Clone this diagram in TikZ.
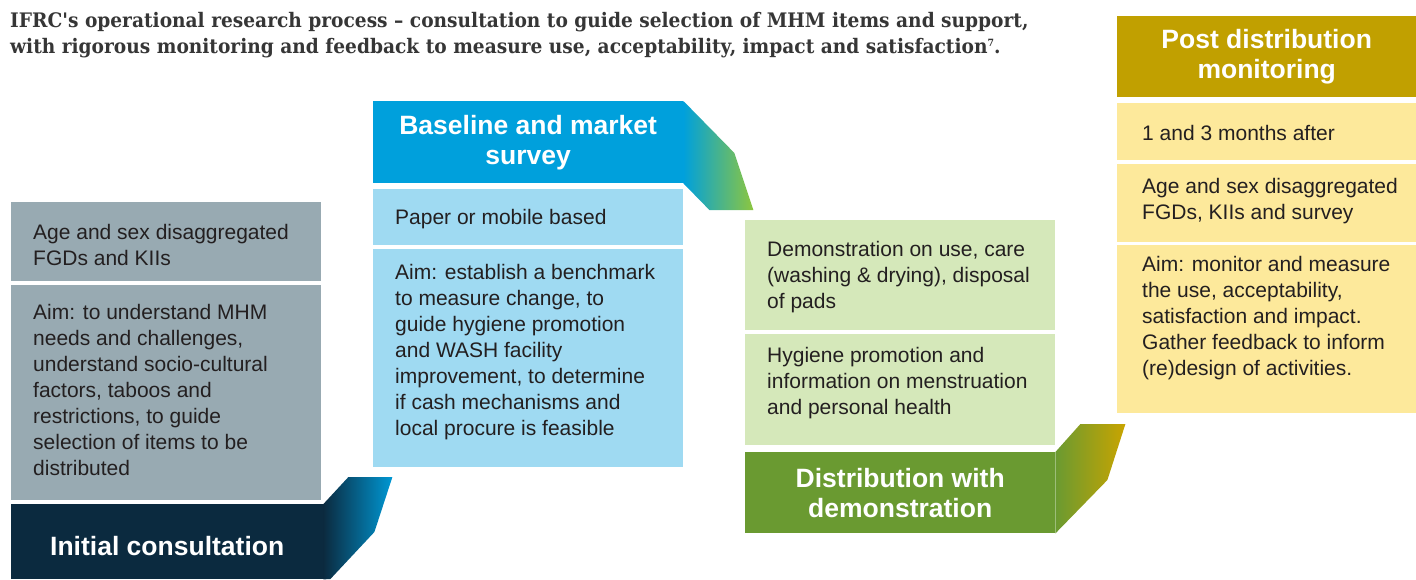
\documentclass[tikz,border=0pt]{standalone}
\usepackage{fontspec}
\setmainfont{Liberation Sans}
\newfontfamily\titlefont[FakeStretch=0.93]{DejaVu Serif}
\usetikzlibrary{positioning}

\definecolor{ink}{HTML}{231F20}
\definecolor{titlegray}{HTML}{363636}
\definecolor{graycell}{HTML}{98AAB2}
\definecolor{navy}{HTML}{0B2A3F}
\definecolor{chevblue}{HTML}{0098D4}
\definecolor{hblue}{HTML}{00A0DC}
\definecolor{lblue}{HTML}{9FDAF2}
\definecolor{chevgreen}{HTML}{8DC63F}
\definecolor{lgreen}{HTML}{D5E8BA}
\definecolor{hgreen}{HTML}{6A9A31}
\definecolor{gold}{HTML}{C1A000}
\definecolor{chevgold}{HTML}{C9A400}
\definecolor{lyellow}{HTML}{FDE99B}

\begin{document}
\begin{tikzpicture}[x=1pt, y=-1pt,
        cell/.style={inner sep=0pt, minimum width=310pt, anchor=north west},
        head/.style={cell, text=white, align=center,
            font=\fontsize{26.5}{30}\selectfont\bfseries},
        txt/.style={anchor=west, align=left, inner sep=0pt, text=ink,
            font=\fontsize{21}{26}\selectfont},
    ]
    \useasboundingbox (0,0) rectangle (1416,579);

    \node[anchor=north west, align=left, inner sep=0pt, text=titlegray,
        font=\titlefont\bfseries\fontsize{20}{26}\selectfont] (title) at (10,12)
        {IFRC's operational research process – consultation to guide selection of MHM items and support,\\
         with rigorous monitoring and feedback to measure use, acceptability, impact and satisfaction{\fontsize{10}{10}\selectfont\raisebox{7pt}{7}}.};

    % initial consultation
    \node[cell, fill=graycell, minimum height=79pt] (a1) at (11,202) {};
    \node[cell, fill=graycell, minimum height=215pt, below=3pt of a1] (a2) {};
    \node[head, fill=navy, minimum width=312pt, minimum height=75pt, text height=27pt, text depth=0pt] (a0) at (11,504) {Initial consultation};
    \shade[left color=navy, right color=chevblue] (a0.north east) -- ++(25,-27) -- ++(44,0)
        -- ++(-18,55) -- ++(-44,47) -- (a0.south east) -- cycle;
    \node[txt, yshift=-3.5pt] (a1t) at ([xshift=22pt]a1.west) {Age and sex disaggregated\\FGDs and KIIs};
    \node[txt, yshift=2.5pt] (a2t) at ([xshift=22pt]a2.west) {Aim: to understand MHM\\needs and challenges,\\understand socio-cultural\\factors, taboos and\\restrictions, to guide\\selection of items to be\\distributed};

    % baseline
    \node[head, fill=hblue, minimum height=82pt] (b0) at (373,101) {Baseline and market\\survey};
    \shade[left color=hblue, right color=chevgreen] (b0.north east) -- ++(51,52) -- ++(19,57)
        -- ++(-44,0) -- (b0.south east) -- cycle;
    \node[cell, fill=lblue, minimum height=56pt] (b1) at (373,189) {};
    \node[cell, fill=lblue, minimum height=218pt, below=3pt of b1] (b2) {};
    \node[txt, yshift=-2pt] (b1t) at ([xshift=22pt]b1.west) {Paper or mobile based};
    \node[txt, yshift=6pt] (b2t) at ([xshift=22pt]b2.west) {Aim: establish a benchmark\\to measure change, to\\guide hygiene promotion\\and WASH facility\\improvement, to determine\\if cash mechanisms and\\local procure is feasible};

    % distribution
    \node[cell, fill=lgreen, minimum height=110pt] (c1) at (745,220) {};
    \node[cell, fill=lgreen, minimum height=111pt, below=3pt of c1] (c2) {};
    \node[head, fill=hgreen, minimum height=81pt] (c0) at (745,452) {Distribution with\\demonstration};
    \shade[left color=hgreen, right color=chevgold] (c0.north east) -- ++(25,-28) -- ++(45,0)
        -- ++(-18,56) -- (c0.south east) -- cycle;
    \node[txt, yshift=-2pt] (c1t) at ([xshift=22pt]c1.west) {Demonstration on use, care\\(washing \& drying), disposal\\of pads};
    \node[txt, yshift=6.5pt] (c2t) at ([xshift=22pt]c2.west) {Hygiene promotion and\\information on menstruation\\and personal health};

    % post distribution
    \node[head, fill=gold, minimum width=299pt, minimum height=81pt] (d0) at (1117,16) {Post distribution\\monitoring};
    \node[cell, fill=lyellow, minimum width=299pt, minimum height=57pt] (d1) at (1117,103) {};
    \node[cell, fill=lyellow, minimum width=299pt, minimum height=78pt, below=3pt of d1] (d2) {};
    \node[cell, fill=lyellow, minimum width=299pt, minimum height=168pt, below=3pt of d2] (d3) {};
    \node[txt, yshift=-1.5pt] (d1t) at ([xshift=25pt]d1.west) {1 and 3 months after};
    \node[txt, yshift=1.5pt] (d2t) at ([xshift=25pt]d2.west) {Age and sex disaggregated\\FGDs, KIIs and survey};
    \node[txt, yshift=11pt] (d3t) at ([xshift=25pt]d3.west) {Aim: monitor and measure\\the use, acceptability,\\satisfaction and impact.\\Gather feedback to inform\\(re)design of activities.};

\end{tikzpicture}
\end{document}
